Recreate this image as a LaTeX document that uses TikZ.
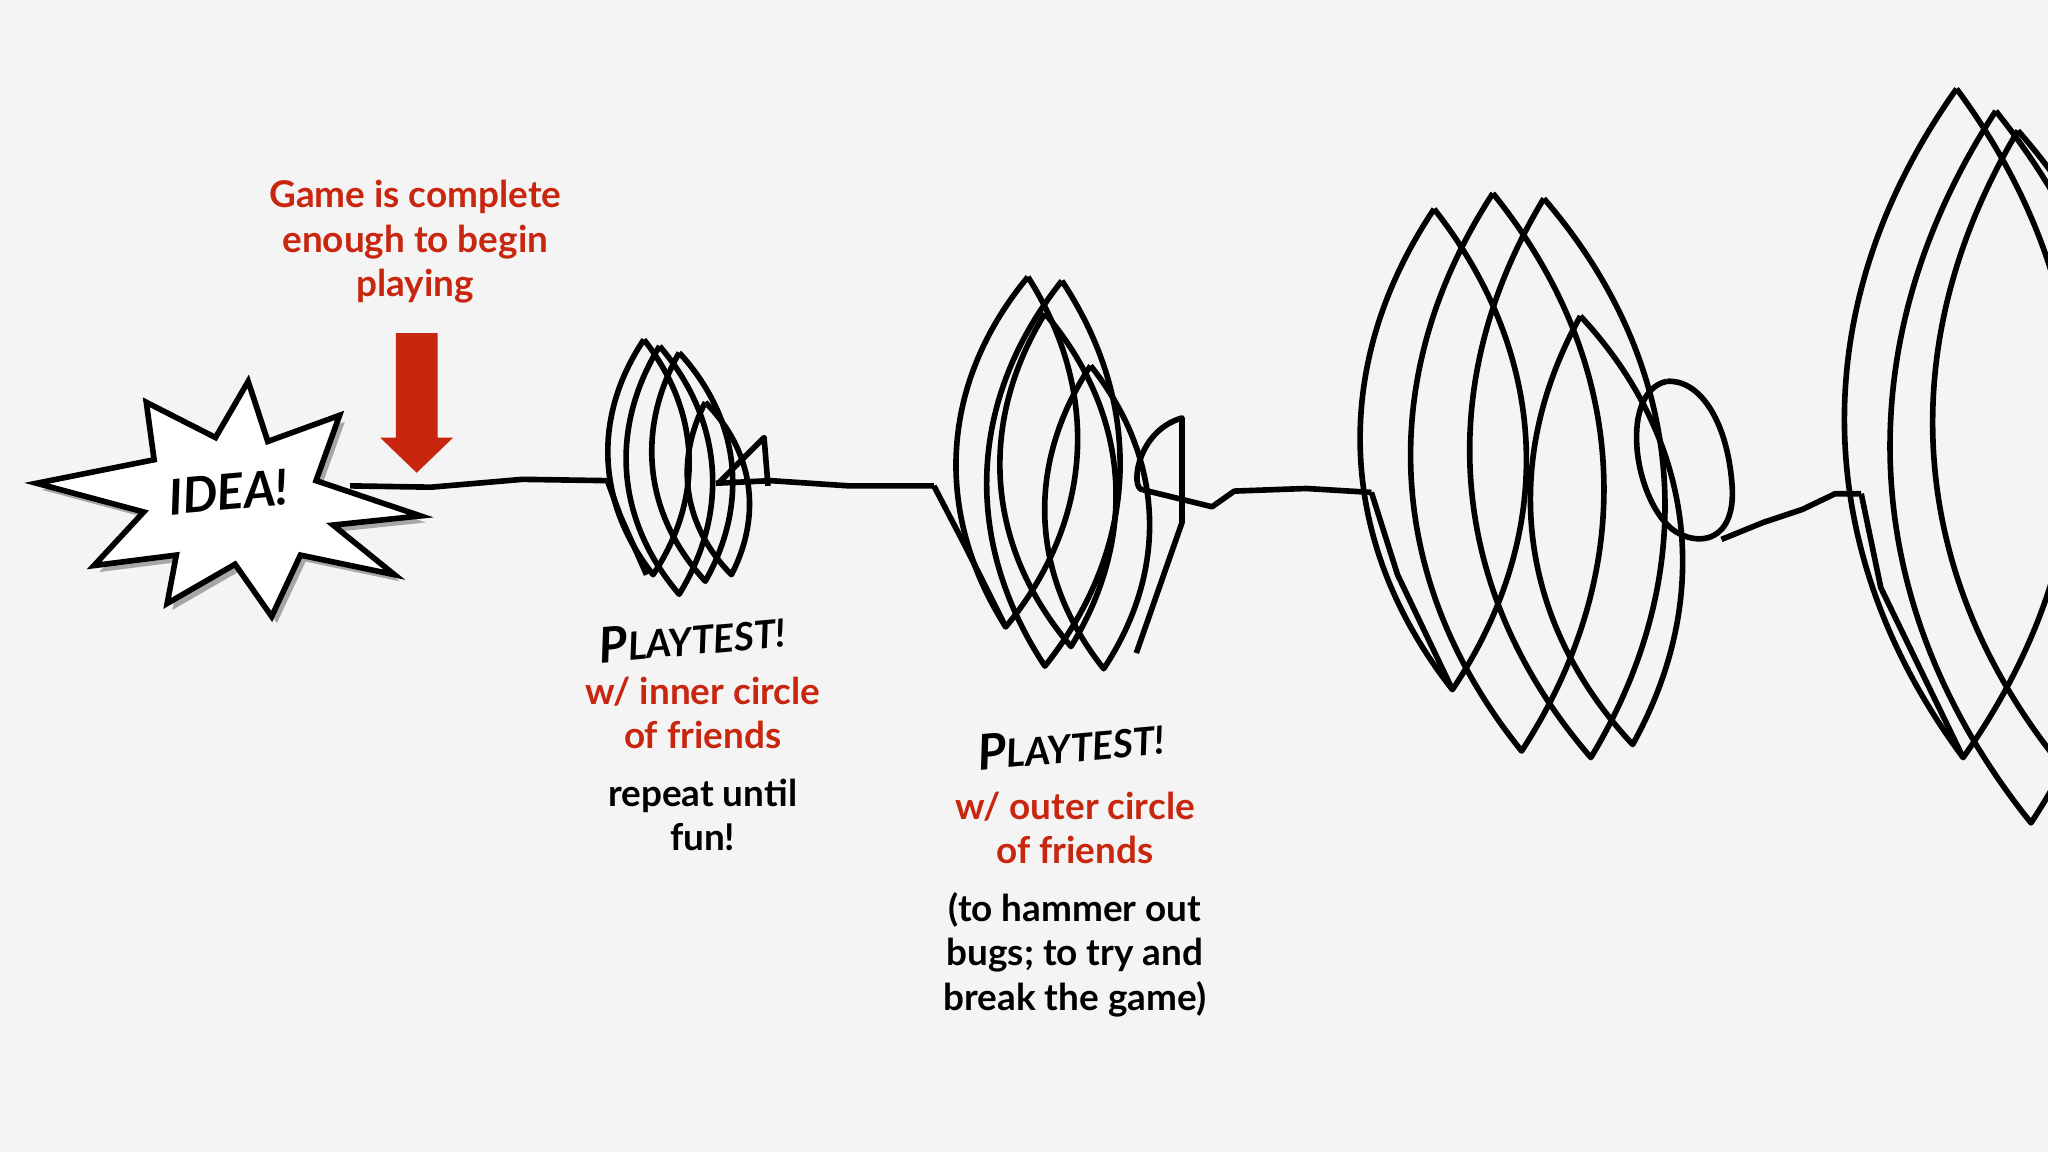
\documentclass[tikz,border=0pt]{standalone}
\usepackage{fontspec}
\setmainfont{Lato}
\definecolor{bg}{HTML}{F4F4F4}
\definecolor{gred}{HTML}{C8260F}
\begin{document}
\begin{tikzpicture}[x=0.013061cm,y=-0.013061cm,
  scrib/.style={line width=1.6pt,black,line join=round},
  lbl/.style={align=center,font=\fontsize{10.5}{12.6}\selectfont\bfseries},
  play/.style={font=\fontsize{11}{14}\selectfont\bfseries\itshape,rotate=5}]
\fill[bg] (0,0) rectangle (1568,882);
\useasboundingbox (0,0) rectangle (1568,882);
% starburst
\def\burst{(28,370)--(118,352)--(112,308)--(165,335)--(190,292)--(205,338)--(260,318)--(242,368)--(322,395)--(255,402)--(302,440)--(230,425)--(208,472)--(180,432)--(128,462)--(135,425)--(72,433)--(110,392)--cycle}
\fill[gray!70,shift={(4,5)}] \burst;
\draw[fill=white,line width=1.6pt,line join=miter] \burst;
\node[font=\fontsize{14}{16}\selectfont\bfseries\itshape,rotate=5] (idea) at (175,377) {IDEA!};
% red label and arrow
\node[lbl,text=gred] (game) at (318,185) {Game is complete\\enough to begin\\playing};
\fill[gred] (303,255) -- (335,255) -- (335,335) -- (347,335) -- (319,362) -- (291,335) -- (303,335) -- cycle;
% main line
\draw[scrib] (268,372) -- (330,373) -- (400,367) -- (465,368);
\draw[scrib] (465,368) -- (475,395) -- (495,440);
\draw[scrib] (548,370) -- (590,368) -- (650,372) -- (715,372);
\draw[scrib] (875,375) -- (928,388) -- (945,376) -- (1000,374) -- (1050,377);
\draw[scrib] (1318,413) -- (1350,400) -- (1380,390) -- (1405,378) -- (1425,378);
% scribble 1
\foreach \p/\q/\u/\v in {493/260/500/440,505/265/520/455,520/270/540/445,540/308/560/440}
  \draw[scrib] (\p,\q) to[bend right=36] (\u,\v) to[bend right=36] (\p,\q);
\draw[scrib] (550,370) -- (585,335) -- (588,372);
% scribble 2
\foreach \p/\q/\u/\v in {787/212/770/480,813/215/800/510,800/240/820/495,835/280/845/512}
  \draw[scrib] (\p,\q) to[bend right=36] (\u,\v) to[bend right=36] (\p,\q);
\draw[scrib] (715,372) -- (740,420) -- (770,480);
\draw[scrib] (870,500) -- (905,400) -- (905,320) .. controls (870,330) and (865,375) .. (875,375);
% scribble 3
\foreach \p/\q/\u/\v in {1098/160/1112/528,1143/148/1165/575,1182/152/1218/580,1210/242/1250/570}
  \draw[scrib] (\p,\q) to[bend right=36] (\u,\v) to[bend right=36] (\p,\q);
\draw[scrib] (1050,377) -- (1070,440) -- (1112,528);
\draw[scrib] (1276,292) .. controls (1240,300) and (1250,380) .. (1280,405) .. controls (1300,420) and (1330,415) .. (1326,370) .. controls (1322,320) and (1300,290) .. (1276,292);
% scribble 4
\foreach \p/\q/\u/\v in {1498/68/1503/580,1528/85/1555/630,1545/100/1590/600}
  \draw[scrib] (\p,\q) to[bend right=36] (\u,\v) to[bend right=36] (\p,\q);
\draw[scrib] (1425,378) -- (1440,450) -- (1503,580);
% labels
\node[play] (p1) at (530,488) {{\fontsize{14}{14}\selectfont P}LAYTEST!};
\node[lbl,text=gred] (r1) at (538,546) {w/ inner circle\\of friends};
\node[lbl] (b1) at (538,624) {repeat until\\fun!};
\node[play] (p2) at (820,570) {{\fontsize{14}{14}\selectfont P}LAYTEST!};
\node[lbl,text=gred] (r2) at (823,634) {w/ outer circle\\of friends};
\node[lbl] (b2) at (823,731) {(to hammer out\\bugs; to try and\\break the game)};
\end{tikzpicture}
\end{document}
